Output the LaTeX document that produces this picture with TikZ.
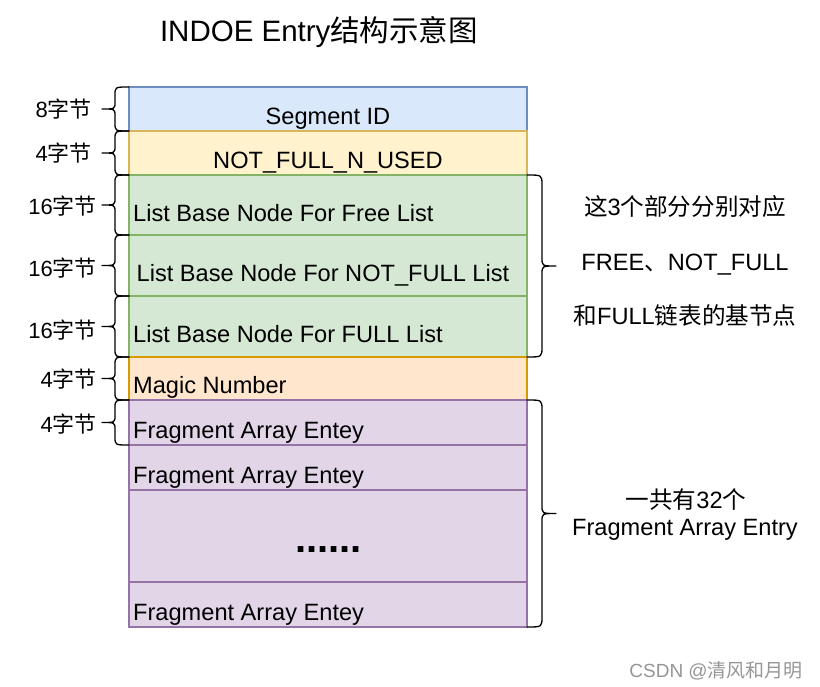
\documentclass[tikz,border=0pt]{standalone}
\usepackage{fontspec}
\setmainfont{Liberation Sans}
\newfontfamily\cjk{Noto Sans CJK SC}
\definecolor{blueF}{HTML}{DAE8FC}\definecolor{blueD}{HTML}{6C8EBF}
\definecolor{yelF}{HTML}{FFF2CC}\definecolor{yelD}{HTML}{D6B656}
\definecolor{grnF}{HTML}{D5E8D4}\definecolor{grnD}{HTML}{82B366}
\definecolor{orgF}{HTML}{FFE6CC}\definecolor{orgD}{HTML}{D79B00}
\definecolor{purF}{HTML}{E1D5E7}\definecolor{purD}{HTML}{9673A6}
\definecolor{wmgray}{RGB}{150,150,150}
\newcommand{\BraceL}[2]{%
  \pgfmathsetmacro{\bm}{(#1+#2)/2}%
  \draw[brc] (129,#1) .. controls (115,#1) .. (115,#1+8) -- (115,\bm-7)
    .. controls (115,\bm) .. (102,\bm) .. controls (115,\bm) .. (115,\bm+7)
    -- (115,#2-8) .. controls (115,#2) .. (129,#2);}
\newcommand{\BraceR}[2]{%
  \pgfmathsetmacro{\bm}{(#1+#2)/2}%
  \draw[brc] (527,#1) .. controls (542,#1) .. (542,#1+10) -- (542,\bm-8)
    .. controls (542,\bm) .. (556,\bm) .. controls (542,\bm) .. (542,\bm+8)
    -- (542,#2-10) .. controls (542,#2) .. (527,#2);}
\begin{document}
\begin{tikzpicture}[x=1pt,y=-1pt,
  cell/.style={draw, line width=1.3pt, minimum width=398pt, minimum height=#1,
    inner sep=0pt, outer sep=0pt, anchor=north west},
  txt/.style={font=\fontsize{23.6}{28}\selectfont, inner sep=0pt, anchor=base west},
  ctxt/.style={font=\fontsize{23.6}{28}\selectfont, inner sep=0pt, anchor=base},
  lab/.style={font=\fontsize{22}{26}\selectfont, inner sep=0pt, anchor=base east},
  brc/.style={draw=black, line width=1.3pt, line join=round, line cap=round}]
\fill[white] (0,0) rectangle (820,687);
\useasboundingbox (0,0) rectangle (820,687);
% title
\node[font=\fontsize{29.5}{34}\selectfont, inner sep=0pt, anchor=base] (title) at (319,41.7)
  {INDOE Entry{\cjk 结构示意图}};
% cells
\node[cell=44pt, fill=blueF, draw=blueD] (r1) at (129,87) {};
\node[cell=44pt, fill=yelF, draw=yelD] (r2) at (129,131) {};
\node[cell=60pt, fill=grnF, draw=grnD] (r3) at (129,175) {};
\node[cell=61pt, fill=grnF, draw=grnD] (r4) at (129,235) {};
\node[cell=61pt, fill=grnF, draw=grnD] (r5) at (129,296) {};
\node[cell=43pt, fill=orgF, draw=orgD] (r6) at (129,357) {};
\node[cell=45pt, fill=purF, draw=purD] (r7) at (129,400) {};
\node[cell=45pt, fill=purF, draw=purD] (r8) at (129,445) {};
\node[cell=92pt, fill=purF, draw=purD] (r9) at (129,490) {};
\node[cell=45pt, fill=purF, draw=purD] (r10) at (129,582) {};
% cell texts
\node[ctxt] (t1) at (328,125) {Segment ID};
\node[ctxt] (t2) at (328,168.3) {NOT\_FULL\_N\_USED};
\node[txt] (t3) at (133,222) {List Base Node For Free List};
\node[txt] (t4) at (136.5,281.7) {List Base Node For NOT\_FULL List};
\node[txt] (t5) at (133,342.7) {List Base Node For FULL List};
\node[txt] (t6) at (133,393.5) {Magic Number};
\node[txt] (t7) at (133,438.5) {Fragment Array Entey};
\node[txt] (t8) at (133,483.5) {Fragment Array Entey};
\node[font=\fontsize{40}{44}\bfseries, inner sep=0pt, anchor=base] (t9) at (328.5,552) {......};
\node[txt] (t10) at (133,620.5) {Fragment Array Entey};
% left labels
\node[lab] (l1) at (92,118) {8{\cjk 字节}};
\node[lab] (l2) at (92,161.7) {4{\cjk 字节}};
\node[lab] (l3) at (97,215) {16{\cjk 字节}};
\node[lab] (l4) at (97,276.7) {16{\cjk 字节}};
\node[lab] (l5) at (97,338) {16{\cjk 字节}};
\node[lab] (l6) at (97,388) {4{\cjk 字节}};
\node[lab] (l7) at (97,432) {4{\cjk 字节}};
% left braces
\BraceL{87}{131}
\BraceL{131}{175}
\BraceL{175}{235}
\BraceL{235}{296}
\BraceL{296}{357}
\BraceL{357}{400}
\BraceL{400}{445}
% right braces
\BraceR{175}{357}
\BraceR{400}{627}
% right texts
\node[ctxt] (n1) at (685,216) {{\cjk 这}3{\cjk 个部分分别对应}};
\node[ctxt] (n2) at (685,270.7) {FREE{\cjk 、}NOT\_FULL};
\node[ctxt] (n3) at (685,325) {{\cjk 和}FULL{\cjk 链表的基节点}};
\node[ctxt] (n4) at (686,508) {{\cjk 一共有}32{\cjk 个}};
\node[ctxt] (n5) at (685,535.7) {Fragment Array Entry};
% watermark
\node[font=\fontsize{19}{22}\selectfont, text=wmgray, inner sep=0pt, anchor=base east] (wm)
  at (803,677) {CSDN @{\cjk 清风和月明}};
\end{tikzpicture}
\end{document}
